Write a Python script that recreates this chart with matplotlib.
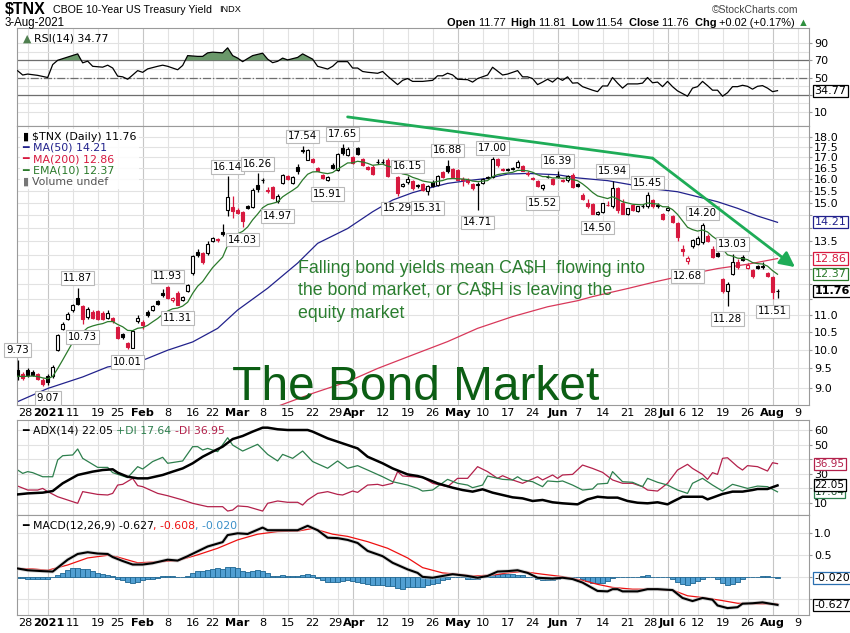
import numpy as np
import pandas as pd
import matplotlib
matplotlib.use("Agg")
import matplotlib.pyplot as plt
import matplotlib.transforms as mtransforms
from matplotlib.ticker import NullLocator, NullFormatter
from matplotlib.offsetbox import TextArea, HPacker, VPacker, AnchoredOffsetbox

# trading-day index: 0 = 28-Dec-2020 ... 149 = 2-Aug-2021, 150 = 3-Aug-2021
first_day = -2

opens = [9.45, 9.35, 9.45, 9.42, 9.35, 9.20, 9.30, 9.30, 10.00, 10.58, 10.90, 11.15,
         11.55, 11.27, 10.95, 11.10, 11.12, 11.08, 10.93, 10.92, 10.65, 10.45,
         10.20, 10.06, 10.82, 10.80, 11.10, 11.15, 11.45, 11.70, 11.88, 11.47,
         11.70, 11.48, 11.77, 12.35, 13.10, 13.05, 13.05, 13.50, 13.58, 13.85,
         14.70, 14.83, 14.70, 14.62, 14.85, 14.83, 15.77, 15.97, 15.55, 15.65,
         15.05, 15.85, 16.15, 15.85, 16.57, 17.28, 16.88, 16.92, 16.50, 16.20,
         15.95, 16.65, 16.40, 17.45, 17.12, 17.00, 17.42, 16.90, 16.55, 16.57,
         16.80, 16.78, 16.85, 16.40, 16.10, 15.70, 15.88, 15.92, 15.74, 15.80,
         15.50, 15.90, 15.75, 16.32, 16.60, 16.45, 16.40, 16.00, 15.95, 15.80,
         15.75, 15.82, 16.10, 16.10, 16.90, 16.45, 16.45, 16.50, 16.55, 16.60,
         16.22, 16.05, 15.92, 15.60, 16.12, 16.00, 16.15, 15.97, 15.95, 16.20,
         15.78, 15.33, 14.99, 14.95, 14.55, 14.62, 14.90, 14.85, 15.60, 15.00,
         14.55, 14.90, 14.68, 14.88, 14.85, 15.10, 14.92, 14.55, 14.72, 14.45,
         14.18, 13.20, 12.78, 13.30, 13.40, 13.45, 13.70, 13.20, 13.07, 12.17,
         11.75, 12.32, 12.75, 12.92, 12.52, 12.45, 12.60, 12.55, 12.35, 12.22, 11.77]
highs = [9.73, 9.40, 9.50, 9.46, 9.38, 9.25, 9.35, 9.60, 10.46, 10.80, 11.10, 11.34,
         11.87, 11.32, 11.25, 11.15, 11.15, 11.12, 11.15, 10.96, 10.68, 10.48,
         10.23, 10.55, 11.00, 10.86, 11.15, 11.30, 11.48, 11.82, 11.93, 11.56,
         11.75, 11.60, 11.98, 12.98, 13.20, 13.10, 13.50, 13.65, 13.62, 14.15,
         16.14, 15.30, 14.78, 14.66, 14.92, 15.60, 16.26, 16.05, 15.65, 15.70,
         15.35, 16.22, 16.20, 16.15, 16.70, 17.54, 17.38, 16.98, 16.55, 16.25,
         16.15, 16.75, 17.20, 17.65, 17.50, 17.05, 17.50, 16.95, 16.60, 16.62,
         16.90, 16.90, 16.95, 16.45, 16.15, 15.85, 16.15, 15.98, 15.80, 15.85,
         15.75, 15.95, 16.18, 16.38, 16.88, 16.50, 16.45, 16.10, 16.05, 15.85,
         15.90, 16.05, 16.15, 17.00, 16.95, 16.50, 16.50, 16.55, 16.85, 16.65,
         16.35, 16.12, 15.95, 15.80, 16.18, 16.05, 16.39, 16.02, 16.20, 16.28,
         15.82, 15.40, 15.15, 15.00, 14.65, 15.00, 15.05, 15.94, 15.65, 15.15,
         14.80, 14.95, 14.88, 14.95, 15.45, 15.15, 14.98, 14.60, 14.85, 14.50,
         14.22, 13.35, 12.95, 13.58, 13.68, 14.20, 13.75, 13.30, 13.10, 12.20,
         12.05, 13.03, 12.85, 13.00, 12.70, 12.50, 12.65, 12.75, 12.40, 12.25, 11.81]
lows = [9.20, 9.20, 9.28, 9.30, 9.20, 9.05, 9.07, 9.25, 9.97, 10.55, 10.85, 11.10,
        11.30, 10.73, 10.90, 10.88, 10.86, 10.85, 10.90, 10.78, 10.30, 10.30,
        10.01, 10.04, 10.78, 10.60, 10.95, 11.12, 11.30, 11.58, 11.50, 11.42,
        11.31, 11.45, 11.74, 12.30, 12.90, 12.68, 13.00, 13.45, 13.45, 13.70,
        14.45, 14.40, 14.52, 14.03, 14.75, 14.78, 15.45, 15.85, 15.40, 15.15,
        14.97, 15.80, 15.95, 15.80, 16.25, 17.20, 16.85, 16.75, 16.35, 16.02,
        15.91, 16.45, 16.35, 17.10, 17.05, 16.70, 17.10, 16.58, 16.40, 16.18,
        16.70, 16.70, 16.10, 16.30, 15.29, 15.65, 15.80, 15.55, 15.62, 15.48,
        15.31, 15.68, 15.70, 16.05, 16.30, 16.08, 15.95, 15.70, 15.80, 15.55,
        14.71, 15.78, 16.00, 16.05, 16.55, 16.38, 16.38, 16.40, 16.50, 16.35,
        16.15, 15.98, 15.65, 15.52, 16.05, 15.75, 16.05, 15.88, 15.90, 15.60,
        15.68, 15.10, 14.80, 14.52, 14.50, 14.58, 14.85, 14.80, 14.60, 14.52,
        14.50, 14.65, 14.62, 14.80, 14.80, 14.80, 14.80, 14.30, 14.65, 14.18,
        13.50, 12.95, 12.68, 13.25, 13.35, 13.40, 13.45, 12.88, 12.90, 11.70,
        11.28, 12.28, 12.50, 12.78, 12.48, 12.20, 12.48, 12.50, 12.22, 11.51, 11.54]
closes = [9.30, 9.25, 9.32, 9.34, 9.23, 9.10, 9.14, 9.55, 10.42, 10.75, 11.05, 11.30,
          11.35, 10.88, 11.20, 10.92, 10.90, 10.88, 11.07, 10.83, 10.33, 10.35,
          10.07, 10.52, 10.92, 10.72, 11.00, 11.27, 11.35, 11.62, 11.55, 11.52,
          11.32, 11.56, 11.94, 12.95, 12.97, 12.75, 13.40, 13.60, 13.55, 13.75,
          15.25, 14.68, 14.60, 14.28, 14.80, 15.55, 15.57, 15.95, 15.50, 15.20,
          15.30, 16.20, 16.02, 16.12, 16.35, 17.33, 17.35, 16.80, 16.38, 16.05,
          16.10, 16.52, 17.15, 17.20, 17.40, 16.75, 17.15, 16.62, 16.45, 16.22,
          16.78, 16.80, 16.15, 16.35, 15.40, 15.80, 16.00, 15.60, 15.70, 15.52,
          15.70, 15.72, 16.15, 16.10, 16.35, 16.12, 15.98, 15.95, 15.90, 15.60,
          15.80, 16.00, 16.05, 16.90, 16.62, 16.42, 16.43, 16.44, 16.80, 16.38,
          16.30, 16.02, 15.70, 15.75, 16.10, 15.80, 16.10, 15.92, 16.15, 15.65,
          15.72, 15.17, 14.85, 14.55, 14.62, 14.98, 14.92, 15.60, 14.70, 14.55,
          14.77, 14.70, 14.85, 14.86, 15.33, 14.85, 14.86, 14.35, 14.80, 14.22,
          13.65, 13.13, 12.88, 13.52, 13.62, 14.10, 13.50, 12.92, 12.94, 11.75,
          12.00, 12.74, 12.55, 12.80, 12.65, 12.25, 12.52, 12.60, 12.27, 11.74, 11.76]

# moving averages (day, value)
ma50_days = [-2, 4, 11, 16, 22, 28, 33, 38, 42, 48, 54, 58, 64, 69, 73, 77, 80, 84, 88,
             92, 96, 100, 106, 110, 116, 122, 126, 130, 134, 138, 142, 146, 150]
ma50_vals = [8.67, 8.99, 9.28, 9.54, 9.66, 9.99, 10.22, 10.61, 11.16, 11.85, 12.70, 13.41,
             13.97, 14.63, 15.11, 15.42, 15.60, 15.82, 15.94, 16.04, 16.23, 16.26, 16.20,
             16.06, 15.94, 15.71, 15.56, 15.46, 15.25, 15.04, 14.77, 14.46, 14.21]
ma200_days = [45, 50, 57, 64, 70, 77, 84, 90, 97, 104, 110, 113, 120, 126, 133, 138, 144, 150]
ma200_vals = [8.32, 8.56, 8.87, 9.16, 9.50, 9.86, 10.23, 10.61, 10.96, 11.26, 11.45, 11.58,
              11.84, 12.08, 12.34, 12.51, 12.66, 12.86]

rsi_days = [-2, -1, 0, 2, 4, 5, 6, 10, 11, 12, 13, 15, 16, 17, 18, 19, 20, 21, 22, 23, 24,
            26, 27, 28, 30, 31, 32, 34, 35, 36, 37, 39, 40, 41, 42, 43, 44, 45, 47, 48, 49,
            50, 51, 52, 54, 55, 57, 58, 60, 61, 62, 64, 65, 66, 67, 68, 70, 71, 72, 74, 75,
            76, 77, 79, 81, 82, 83, 84, 85, 86, 88, 89, 90, 92, 93, 95, 96, 98, 99, 100, 101,
            102, 103, 104, 105, 106, 107, 108, 109, 110, 111, 113, 114, 115, 116, 117, 118,
            119, 120, 122, 123, 124, 125, 126, 127, 128, 129, 130, 132, 133, 134, 135, 136,
            137, 138, 139, 140, 141, 142, 143, 144, 145, 146, 147, 148, 149, 150]
rsi_vals = [57.8, 52.9, 54.0, 52.5, 50.0, 65.0, 70.0, 77.4, 67.0, 69.0, 63.0, 62.0, 64.3,
            61.0, 51.6, 50.8, 48.0, 52.9, 58.0, 56.0, 60.0, 63.0, 64.3, 63.0, 59.0, 64.0,
            75.4, 74.5, 74.5, 78.6, 79.4, 78.6, 84.4, 75.4, 72.5, 68.4, 72.0, 75.4, 78.2,
            71.3, 67.2, 68.8, 72.5, 70.4, 73.3, 77.4, 71.3, 63.0, 59.8, 63.0, 68.4, 68.4,
            61.0, 61.0, 57.0, 56.1, 54.9, 57.0, 51.6, 41.8, 46.7, 48.8, 45.5, 45.5, 46.7,
            52.0, 52.0, 55.0, 53.0, 48.0, 47.5, 44.7, 48.8, 52.9, 61.9, 52.9, 54.0, 58.0,
            50.8, 50.8, 48.8, 41.8, 44.7, 48.0, 44.7, 49.6, 46.7, 50.8, 43.5, 43.9, 39.4,
            35.3, 33.6, 40.2, 40.2, 50.0, 43.5, 37.7, 42.6, 42.6, 43.5, 50.0, 43.9, 44.7,
            39.4, 45.5, 39.4, 34.5, 28.3, 37.7, 39.4, 45.5, 40.6, 35.3, 35.3, 28.3, 32.4,
            39.4, 39.4, 41.0, 39.8, 36.5, 39.8, 40.6, 37.7, 33.6, 34.77]

adx_days = [-2, 0, 3, 5, 7, 10, 13, 15, 17, 18, 20, 22, 24, 27, 29, 31, 33, 35, 37, 39, 41,
            43, 45, 47, 48, 50, 52, 56, 57, 60, 62, 64, 66, 68, 71, 73, 76, 78, 79, 82, 85,
            87, 89, 91, 93, 95, 97, 99, 101, 103, 105, 107, 110, 112, 114, 116, 118, 120,
            122, 124, 126, 128, 129, 131, 133, 135, 136, 137, 139, 141, 143, 145, 146, 148, 150]
adx_vals = [15.9, 16.6, 17.1, 18.2, 23.5, 29.2, 31.5, 32.6, 33.1, 30.8, 28.0, 26.9, 26.9,
            29.2, 31.5, 33.7, 37.2, 41.7, 45.2, 48.6, 53.8, 55.9, 58.9, 61.6, 61.6, 60.5,
            60.0, 60.0, 58.9, 54.3, 52.0, 49.7, 47.4, 41.7, 37.2, 33.7, 29.6, 28.5, 27.6,
            23.5, 20.5, 18.9, 17.8, 19.4, 17.1, 15.5, 13.9, 13.2, 11.4, 12.1, 10.5, 9.8,
            9.1, 12.5, 14.3, 13.7, 13.7, 11.4, 10.2, 9.8, 10.5, 9.1, 10.9, 14.3, 14.3, 14.3,
            12.5, 13.7, 16.2, 17.8, 17.8, 18.9, 19.6, 19.6, 22.05]
pdi_days = [-2, -1, 0, 1, 3, 5, 6, 7, 9, 10, 11, 14, 16, 17, 20, 22, 23, 25, 27, 28, 31, 33,
            34, 35, 36, 38, 40, 41, 43, 46, 48, 50, 51, 53, 55, 57, 60, 62, 64, 66, 68, 71,
            73, 76, 78, 79, 81, 84, 86, 88, 89, 91, 92, 95, 97, 98, 99, 101, 103, 104, 106,
            107, 109, 111, 113, 114, 116, 117, 119, 121, 123, 124, 126, 128, 130, 132, 133,
            135, 137, 139, 141, 142, 144, 146, 148, 150]
pdi_vals = [32.6, 30.3, 31.5, 30.8, 28.0, 28.0, 39.5, 42.4, 42.9, 47.0, 40.6, 34.4, 34.4,
            30.8, 27.4, 34.9, 33.3, 38.4, 41.3, 37.2, 38.8, 48.6, 48.6, 46.3, 47.4, 45.2,
            54.7, 49.7, 45.6, 50.2, 43.3, 38.8, 43.3, 40.6, 45.6, 38.4, 33.8, 38.8, 33.8,
            35.6, 32.6, 28.0, 24.6, 22.3, 20.0, 18.2, 18.9, 26.2, 23.5, 22.3, 20.5, 22.3,
            28.5, 26.2, 25.8, 28.0, 25.8, 24.6, 21.2, 25.1, 24.6, 25.1, 22.3, 18.9, 19.6,
            23.0, 23.5, 31.5, 24.6, 24.2, 21.2, 26.9, 24.2, 22.3, 18.9, 16.6, 23.5, 26.9,
            22.3, 18.2, 22.8, 21.9, 20.0, 21.6, 21.2, 17.64]
mdi_days = [-2, 0, 2, 3, 4, 6, 10, 11, 14, 16, 17, 18, 19, 21, 22, 23, 26, 28, 31, 33, 36,
            39, 40, 41, 42, 44, 47, 48, 50, 52, 54, 55, 56, 58, 60, 62, 63, 65, 66, 68, 70,
            71, 73, 74, 75, 77, 79, 81, 84, 86, 88, 90, 92, 94, 95, 97, 99, 102, 103, 105,
            106, 107, 109, 111, 113, 115, 117, 119, 121, 123, 124, 126, 128, 130, 132, 133,
            135, 136, 137, 138, 139, 140, 142, 143, 144, 146, 148, 149, 150]
mdi_vals = [21.6, 18.9, 18.9, 20.0, 17.8, 14.3, 9.8, 17.8, 15.9, 15.5, 16.6, 22.3, 22.8,
            26.9, 21.9, 21.2, 16.6, 15.0, 12.1, 9.8, 7.5, 7.5, 4.5, 5.2, 8.0, 7.5, 4.5, 9.8,
            11.4, 10.5, 10.5, 8.6, 12.1, 16.6, 17.8, 15.9, 15.5, 18.2, 17.3, 22.3, 22.8,
            21.9, 23.5, 31.5, 28.5, 28.0, 27.6, 23.5, 21.2, 26.9, 26.9, 34.9, 31.5, 26.9,
            28.7, 25.8, 23.5, 28.0, 25.8, 29.2, 26.9, 29.2, 29.6, 36.0, 33.7, 31.0, 25.8,
            23.5, 23.5, 21.2, 18.9, 18.2, 23.5, 32.6, 36.5, 33.7, 29.6, 26.2, 30.8, 29.6,
            40.6, 41.0, 34.9, 32.6, 35.6, 34.9, 31.9, 37.6, 36.95]

macd_days = [-2, 0, 3, 5, 6, 8, 10, 12, 14, 16, 17, 19, 21, 23, 25, 28, 30, 32, 34, 36, 39,
             40, 42, 44, 47, 48, 51, 54, 56, 58, 60, 62, 64, 66, 68, 71, 73, 76, 78, 79, 81,
             83, 85, 88, 90, 92, 94, 96, 98, 100, 102, 105, 107, 109, 111, 114, 116, 117,
             118, 119, 122, 124, 126, 129, 131, 133, 135, 137, 138, 140, 142, 143, 145, 147, 150]
macd_vals = [0.20, 0.16, 0.14, 0.13, 0.22, 0.40, 0.53, 0.57, 0.54, 0.53, 0.46, 0.37, 0.29,
             0.29, 0.32, 0.40, 0.38, 0.48, 0.59, 0.70, 0.80, 0.96, 1.00, 0.985, 1.13, 1.07,
             1.07, 1.07, 1.17, 1.07, 0.90, 0.89, 0.85, 0.78, 0.60, 0.48, 0.33, 0.18, 0.10,
             0.01, -0.01, 0.03, 0.07, 0.03, -0.01, 0.03, 0.13, 0.14, 0.16, 0.10, -0.01,
             -0.03, -0.01, -0.04, -0.12, -0.31, -0.32, -0.27, -0.27, -0.32, -0.32, -0.27,
             -0.27, -0.29, -0.47, -0.54, -0.47, -0.51, -0.64, -0.70, -0.68, -0.60, -0.59,
             -0.57, -0.627]
signal_days = [-2, 1, 4, 8, 12, 16, 18, 22, 26, 30, 34, 38, 42, 46, 50, 54, 57, 61, 64, 68,
               72, 76, 79, 83, 86, 89, 93, 96, 99, 103, 107, 111, 114, 117, 121, 125, 129,
               132, 135, 139, 142, 145, 150]
signal_vals = [0.20, 0.19, 0.16, 0.28, 0.44, 0.50, 0.46, 0.33, 0.35, 0.38, 0.51, 0.66, 0.85,
               0.98, 1.04, 1.05, 1.11, 0.98, 0.93, 0.81, 0.66, 0.44, 0.22, 0.10, 0.07, 0.03,
               0.05, 0.10, 0.13, 0.07, 0.015, -0.07, -0.16, -0.23, -0.27, -0.27, -0.29, -0.42,
               -0.46, -0.53, -0.59, -0.60, -0.608]
# histogram, one bar per day from day -2
hist_vals = [-0.02, -0.02, -0.03, -0.03, -0.03, -0.03, -0.04, 0.00, 0.05, 0.10, 0.16, 0.20,
             0.20, 0.19, 0.18, 0.15, 0.10, 0.07, 0.05, 0.02, -0.04, -0.07, -0.11, -0.12,
             -0.10, -0.07, -0.05, -0.03, -0.01, 0.03, 0.03, 0.03, 0.01, 0.00, 0.02, 0.10,
             0.14, 0.14, 0.16, 0.19, 0.20, 0.19, 0.24, 0.23, 0.20, 0.15, 0.13, 0.14, 0.16,
             0.15, 0.10, 0.04, 0.03, 0.045, 0.04, 0.02, 0.02, 0.06, 0.08, 0.05, -0.02, -0.07,
             -0.11, -0.11, -0.10, -0.08, -0.07, -0.08, -0.10, -0.13, -0.16, -0.18, -0.18,
             -0.18, -0.19, -0.20, -0.25, -0.27, -0.22, -0.22, -0.22, -0.22, -0.17, -0.16,
             -0.12, -0.07, -0.045, 0.00, 0.015, 0.00, -0.03, -0.045, -0.045, 0.00, 0.03,
             0.07, 0.08, 0.07, 0.07, 0.07, 0.045, 0.045, 0.015, 0.00, -0.045, -0.06, -0.06,
             -0.06, -0.03, 0.00, 0.015, 0.00, 0.00, -0.03, -0.08, -0.12, -0.13, -0.12, -0.08,
             -0.01, 0.01, 0.01, 0.01, 0.00, 0.015, 0.02, 0.045, 0.015, 0.01, 0.01, 0.00,
             -0.045, -0.10, -0.16, -0.17, -0.12, -0.08, -0.03, 0.00, 0.00, -0.045, -0.14,
             -0.17, -0.16, -0.10, -0.045, 0.00, 0.01, 0.015, 0.03, 0.04, 0.00, -0.02]

hi_label_days = [-2, 10, 28, 40, 46, 55, 63, 76, 84, 93, 106, 117, 124, 135, 141]
lo_label_days = [4, 11, 20, 30, 43, 50, 60, 74, 80, 90, 103, 114, 132, 140, 149]

tick_days = [0, 4, 9, 14, 18, 23, 28, 33, 37, 42, 47, 52, 57, 62, 65, 71, 76, 81, 86, 91,
             96, 101, 106, 110, 115, 120, 125, 128, 130, 134, 139, 144, 149, 154]
tick_labels = ['28', '2021', '11', '19', '25', 'Feb', '8', '16', '22', 'Mar', '8', '15',
               '22', '29', 'Apr', '12', '19', '26', 'May', '10', '17', '24', 'Jun', '7',
               '14', '21', '28', 'Jul', '6', '12', '19', '26', 'Aug', '9']
month_labels = {'2021', 'Feb', 'Mar', 'Apr', 'May', 'Jun', 'Jul', 'Aug'}
# small horizontal nudges (pixels) for labels that sit close together
label_nudge = {0: -2, 1: 1, 13: -2, 14: 2, 26: -2, 27: -1, 28: 4}

# hand drawn trend arrow (day, yield)
trend_days = [64, 125, 153.5]
trend_vals = [19.0, 16.96, 12.56]

RED = '#d7193f'
NAVY = '#22228c'
GREEN = '#2b7a2b'
GRID = '#e2e2e2'
SANS = ['DejaVu Sans']
ARIAL = ['Liberation Sans', 'DejaVu Sans']

o = np.array(opens); h = np.array(highs); l = np.array(lows); c = np.array(closes)
days = np.arange(first_day, first_day + len(c))

fig = plt.figure(figsize=(8.5, 6.33), dpi=100)
W, H = 850.0, 633.0


def panel(top, bottom):
    return fig.add_axes([17 / W, 1 - bottom / H, (809 - 17) / W, (bottom - top) / H])


ax_rsi = panel(28, 126)
ax_main = panel(126, 405)
ax_adx = panel(420, 515)
ax_macd = panel(515, 615)
tags = {}


def style(ax, show_x):
    ax.set_xlim(-2.14, 156.3)
    for s in ax.spines.values():
        s.set_color('#9a9a9a')
        s.set_linewidth(0.8)
    ax.yaxis.tick_right()
    ax.tick_params(axis='y', which='both', length=2, pad=1.5, labelsize=8,
                   color='#9a9a9a', labelcolor='black')
    ax.tick_params(axis='x', length=0, pad=2.5, labelsize=8.1)
    for d, lab in zip(tick_days, tick_labels):
        ax.axvline(d, color='#c6c6c6' if lab in month_labels else GRID, lw=0.8, zorder=0)
    ax.set_xticks(tick_days)
    if show_x:
        ax.set_xticklabels(tick_labels, family=SANS)
        for k, t in enumerate(ax.get_xticklabels()):
            if t.get_text() in month_labels:
                t.set_fontweight('bold')
            if k in label_nudge:
                shift = mtransforms.ScaledTranslation(label_nudge[k] / 100.0, 0,
                                                      fig.dpi_scale_trans)
                t.set_transform(t.get_transform() + shift)
    else:
        ax.set_xticklabels([])


def tag(ax, y, text, ec, tc='black', bold=False, size=8):
    tags.setdefault(ax, []).append(y)
    ax.annotate(text, xy=(1, y), xycoords=ax.get_yaxis_transform(), xytext=(4, 0),
                textcoords='offset points', ha='left', va='center', fontsize=size,
                color=tc, fontweight='bold' if bold else 'normal', family=SANS,
                bbox=dict(boxstyle='square,pad=0.1', fc='white', ec=ec, lw=0.9),
                annotation_clip=False, zorder=10)


def yticks(ax, values, labels):
    # labels hidden behind a value tag are left out, as on the original
    ax.set_yticks(values)
    ty = [ax.transData.transform((0, t))[1] for t in tags.get(ax, [])]
    shown = []
    for v, lab in zip(values, labels):
        py = ax.transData.transform((0, v))[1]
        shown.append('' if any(abs(py - q) < 8.5 for q in ty) else lab)
    ax.set_yticklabels(shown, family=SANS)


def rich(parts, size=7.6, family=SANS):
    boxes = [TextArea(t, textprops=dict(color=col, fontsize=size, family=family,
                                        fontweight=w)) for t, col, w in parts]
    return HPacker(children=boxes, align='baseline', pad=0, sep=0)


def legend(ax, child, white=False):
    box = AnchoredOffsetbox(loc='upper left', child=child, pad=0.15, borderpad=0.25,
                            frameon=white, bbox_to_anchor=(0, 1),
                            bbox_transform=ax.transAxes)
    if white:
        box.patch.set_facecolor('white')
        box.patch.set_edgecolor('none')
        box.patch.set_alpha(0.85)
    box.set_zorder(8)
    ax.add_artist(box)


# ---------------- RSI ----------------
style(ax_rsi, False)
ax_rsi.set_ylim(-6.2, 107.4)
for v in range(10, 100, 10):
    ax_rsi.axhline(v, color=GRID, lw=0.8, zorder=0)
ax_rsi.axhline(70, color='#6e6e6e', lw=0.9, zorder=1)
ax_rsi.axhline(30, color='#6e6e6e', lw=0.9, zorder=1)
ax_rsi.axhline(50, color='#6e6e6e', lw=0.9, ls='-.', zorder=1)
rsi_d = np.array(rsi_days, float)
rsi_v = np.array(rsi_vals)
ax_rsi.fill_between(rsi_d, rsi_v, 70, where=rsi_v > 70, interpolate=True,
                    color='#6a986a', lw=0, zorder=2)
ax_rsi.plot(rsi_d, rsi_v, color='black', lw=0.9, zorder=3)
tag(ax_rsi, rsi_vals[-1], f'{rsi_vals[-1]:.2f}', 'black')
yticks(ax_rsi, [10, 30, 50, 70, 90], ['10', '30', '50', '70', '90'])
legend(ax_rsi, rich([('\u25b2 ', '#4f7f4f', 'normal'),
                     (f'RSI(14) {rsi_vals[-1]:.2f}', 'black', 'normal')], size=7.8))

# ---------------- price ----------------
style(ax_main, True)
ax_main.set_yscale('log')
ax_main.set_ylim(8.59, 18.53)
price_ticks = np.arange(9.0, 18.01, 0.5)
for v in price_ticks:
    ax_main.axhline(v, color=GRID, lw=0.8, zorder=0)
ax_main.yaxis.set_minor_locator(NullLocator())
ax_main.yaxis.set_minor_formatter(NullFormatter())

prev = np.r_[c[0], c[:-1]]
edge = np.where(c >= prev, 'black', RED)
face = np.where(c < o, edge, 'white')
ax_main.vlines(days, l, h, colors=edge, lw=0.9, zorder=3)
lo_b = np.minimum(o, c)
hi_b = np.maximum(o, c)
ax_main.bar(days, np.maximum(hi_b - lo_b, 0.015), bottom=lo_b, width=0.7,
            color=face, edgecolor=edge, linewidth=0.8, zorder=4)

ema10 = pd.Series(c).ewm(span=10, adjust=False).mean().values
ax_main.plot(ma200_days, ma200_vals, color='#d8385a', lw=0.9, zorder=2)
ax_main.plot(ma50_days, ma50_vals, color=NAVY, lw=0.9, zorder=2)
ax_main.plot(days, ema10, color=GREEN, lw=0.9, zorder=5)

lab_box = dict(boxstyle='square,pad=0.18', fc='white', ec='#b9b9b9', lw=0.8)
for d in hi_label_days:
    v = h[d - first_day]
    ax_main.annotate(f'{v:.2f}', xy=(d, v), xytext=(0, 3.2), textcoords='offset points',
                     ha='center', va='bottom', fontsize=7.4, family=SANS, bbox=lab_box,
                     zorder=7)
for d in lo_label_days:
    v = l[d - first_day]
    ax_main.annotate(f'{v:.2f}', xy=(d, v), xytext=(0, -5.5), textcoords='offset points',
                     ha='center', va='top', fontsize=7.4, family=SANS, bbox=lab_box,
                     zorder=7)

ax_main.text(0.2715, 0.018, 'The Bond Market', transform=ax_main.transAxes,
             fontsize=34.5, family=ARIAL, color='#0c5e14', va='baseline', ha='left',
             zorder=6)
ax_main.text(0.355, 0.52,
             'Falling bond yields mean CA\\$H  flowing into\n'
             'the bond market, or CA\\$H is leaving the\nequity market',
             transform=ax_main.transAxes, fontsize=12.8, family=ARIAL, color='#2a7d2f',
             va='top', ha='left', linespacing=1.42, zorder=6)

ax_main.plot(trend_days[:2], trend_vals[:2], color='#1eac57', lw=2.0, clip_on=False,
             zorder=9, solid_capstyle='round')
ax_main.annotate('', xy=(trend_days[2], trend_vals[2]),
                 xytext=(trend_days[1], trend_vals[1]),
                 arrowprops=dict(arrowstyle='-|>,head_length=0.9,head_width=0.45',
                                 color='#1eac57', lw=2.0, shrinkA=0, shrinkB=0),
                 annotation_clip=False, zorder=9)

tag(ax_main, ma50_vals[-1], f'{ma50_vals[-1]:.2f}', NAVY, NAVY)
tag(ax_main, ma200_vals[-1], f'{ma200_vals[-1]:.2f}', RED, RED)
tag(ax_main, ema10[-1], '12.37', GREEN, GREEN)
tag(ax_main, c[-1], f'{c[-1]:.2f}', 'black', 'black', bold=True)
yticks(ax_main, price_ticks, [f'{v:.1f}' for v in price_ticks])

rows = [rich([('\u25ae ', 'black', 'normal'), ('\\$TNX (Daily) 11.76', 'black', 'normal')], size=7.9),
        rich([('\u2501 ', NAVY, 'normal'), (f'MA(50) {ma50_vals[-1]:.2f}', NAVY, 'normal')], size=7.9),
        rich([('\u2501 ', RED, 'normal'), (f'MA(200) {ma200_vals[-1]:.2f}', RED, 'normal')], size=7.9),
        rich([('\u2501 ', GREEN, 'normal'), ('EMA(10) 12.37', GREEN, 'normal')], size=7.9),
        rich([('\u25ae ', '#777777', 'normal'), ('Volume undef', '#555555', 'normal')], size=7.9)]
legend(ax_main, VPacker(children=rows, align='left', pad=0, sep=1.0), white=True)

# ---------------- ADX ----------------
style(ax_adx, False)
ax_adx.set_ylim(1.8, 66.85)
for v in range(10, 61, 10):
    ax_adx.axhline(v, color=GRID, lw=0.8, zorder=0)
ax_adx.plot(mdi_days, mdi_vals, color='#b3214b', lw=0.9, zorder=2)
ax_adx.plot(pdi_days, pdi_vals, color='#2d7f4d', lw=0.9, zorder=2)
ax_adx.plot(adx_days, adx_vals, color='black', lw=1.8, zorder=3)
tag(ax_adx, mdi_vals[-1], f'{mdi_vals[-1]:.2f}', '#b3214b', '#b3214b', size=7.6)
tag(ax_adx, pdi_vals[-1], f'{pdi_vals[-1]:.2f}', '#2d7f4d', '#1d4f2d', size=7.6)
tag(ax_adx, adx_vals[-1], f'{adx_vals[-1]:.2f}', 'black', size=7.6)
yticks(ax_adx, list(range(10, 61, 10)), [str(v) for v in range(10, 61, 10)])
legend(ax_adx, rich([('\u2501 ', 'black', 'normal'),
                     (f'ADX(14) {adx_vals[-1]:.2f} ', 'black', 'normal'),
                     (f'+DI {pdi_vals[-1]:.2f} ', '#2d7f4d', 'normal'),
                     (f'-DI {mdi_vals[-1]:.2f}', '#b3214b', 'normal')], size=7.8))

# ---------------- MACD ----------------
style(ax_macd, True)
ax_macd.set_ylim(-0.857, 1.416)
for v in [-0.5, 0, 0.5, 1.0]:
    ax_macd.axhline(v, color=GRID, lw=0.8, zorder=0)
ax_macd.bar(days, hist_vals, width=1.0, color='#519fd2', edgecolor='#1d6591',
            linewidth=0.6, zorder=2)
ax_macd.plot(signal_days, signal_vals, color='#ee1111', lw=0.9, zorder=3)
ax_macd.plot(macd_days, macd_vals, color='#c4c4c4', lw=2.8, alpha=0.6, zorder=3)
ax_macd.plot(macd_days, macd_vals, color='black', lw=1.5, zorder=4)
tag(ax_macd, hist_vals[-1], f'{hist_vals[-1]:.3f}', '#2a6fb0')
tag(ax_macd, macd_vals[-1], f'{macd_vals[-1]:.3f}', 'black')
yticks(ax_macd, [-0.5, 0, 0.5, 1.0], ['-0.5', '0', '0.5', '1.0'])
legend(ax_macd, rich([('\u2501 ', 'black', 'normal'),
                      (f'MACD(12,26,9) {macd_vals[-1]:.3f}', 'black', 'normal'),
                      (f', {signal_vals[-1]:.3f}', '#ee1111', 'normal'),
                      (f', {hist_vals[-1]:.3f}', '#3a8fc8', 'normal')], size=7.8))

# ---------------- header ----------------
fig.text(5 / W, 1 - 10 / H, '\\$TNX', fontsize=11.5, fontweight='bold', family=ARIAL,
         va='center')
fig.text(53 / W, 1 - 10 / H, 'CBOE 10-Year US Treasury Yield', fontsize=7.7, family=ARIAL,
         va='center')
fig.text(219 / W, 1 - 10 / H, 'INDX', fontsize=6.6, family=ARIAL, va='center')
fig.text(5 / W, 1 - 23 / H, '3-Aug-2021', fontsize=8.3, family=ARIAL, va='center')
fig.text(798 / W, 1 - 10 / H, '\u00a9StockCharts.com', fontsize=7.5, family=ARIAL,
         color='#444444', va='center', ha='right')
hdr = rich([('Open ', 'black', 'bold'), ('11.77  ', 'black', 'normal'),
            ('High ', 'black', 'bold'), ('11.81  ', 'black', 'normal'),
            ('Low ', 'black', 'bold'), ('11.54  ', 'black', 'normal'),
            ('Close ', 'black', 'bold'), ('11.76  ', 'black', 'normal'),
            ('Chg ', 'black', 'bold'), ('+0.02 (+0.17%) ', 'black', 'normal'),
            ('\u25b2', '#2f8f3f', 'normal')], size=7.9, family=ARIAL)
hbox = AnchoredOffsetbox(loc='center right', child=hdr, pad=0, borderpad=0, frameon=False,
                         bbox_to_anchor=(809 / W, 1 - 23 / H),
                         bbox_transform=fig.transFigure)
ax_rsi.add_artist(hbox)

fig.savefig('out.png', dpi=100, facecolor='white')
